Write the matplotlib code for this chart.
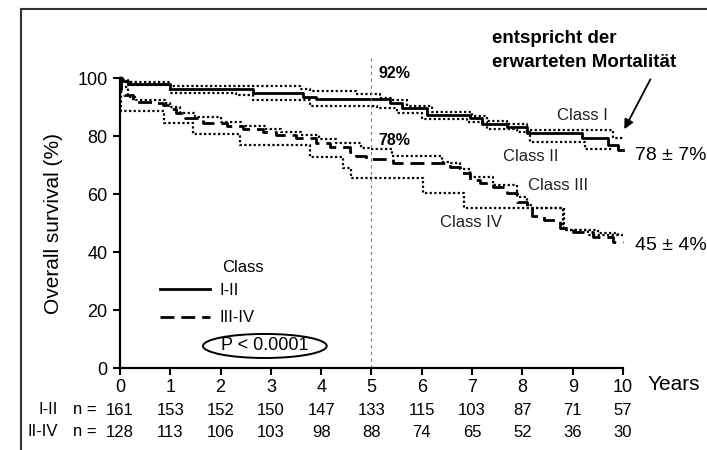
import matplotlib.pyplot as plt
from matplotlib.lines import Line2D

plt.rcParams['font.family'] = ['Liberation Sans', 'DejaVu Sans']

# survival curves (step, value holds from each time until the next)
t_12 = [0, 0.05, 0.15, 1.0, 2.65, 3.64, 3.9, 5.36, 5.6, 6.1, 6.96, 7.2, 7.7, 8.1, 9.18, 9.7, 9.9, 10.0]
s_12 = [100, 99, 97.9, 96.1, 94.9, 93.6, 92.6, 91.3, 89.5, 87.2, 86.1, 84.1, 83.2, 81.1, 79.2, 76.9, 75.2, 75.2]

t_34 = [0, 0.03, 0.08, 0.26, 0.66, 0.86, 1.02, 1.12, 1.3, 1.66, 2.12, 2.45, 2.85, 3.11, 3.5, 3.9,
        4.18, 4.57, 4.7, 4.9, 5.43, 6.56, 6.76, 6.96, 7.16, 7.42, 7.69, 7.89, 8.09, 8.2, 8.42, 8.75,
        9.0, 9.41, 9.8, 10.0]
s_34 = [100, 96, 94, 91.8, 91.3, 90.6, 89.2, 87.8, 86.1, 84.6, 83.4, 82.3, 81.5, 80.3, 79.2, 77.5,
        76.3, 74.6, 73.1, 72.0, 70.6, 69.4, 67.1, 64.8, 63.7, 62.5, 60.2, 57.3, 55.1, 52.4, 51.0, 48.2,
        47.0, 45.3, 43.6, 43.6]

# single-class curves (dotted)
t_c1 = [0, 0.05, 0.15, 1.0, 3.58, 3.78, 4.7, 5.17, 5.4, 5.7, 6.2, 7.0, 7.3, 7.7, 8.1, 9.8, 10.0]
s_c1 = [100, 99.2, 98.6, 97.3, 96.1, 95.6, 94.5, 93.2, 92.3, 90.5, 88.2, 87.0, 85.2, 84.0, 82.1, 79.2, 79.2]

t_c2 = [0, 0.05, 0.15, 1.0, 2.3, 2.65, 3.78, 5.1, 5.5, 6.0, 6.9, 7.3, 7.9, 8.15, 9.25, 9.8]
s_c2 = [100, 98.8, 97.5, 94.9, 94.1, 92.4, 90.3, 89.5, 88.0, 86.0, 85.0, 82.3, 81.5, 78.1, 75.4, 75.4]

t_c3 = [0, 0.05, 0.15, 0.3, 0.9, 1.0, 1.2, 1.5, 2.0, 2.4, 2.9, 3.2, 3.6, 3.95, 4.3, 4.8, 5.0, 5.4,
        6.4, 6.56, 6.76, 6.96, 7.42, 7.89, 8.09, 8.2, 8.8, 9.5, 9.9]
s_c3 = [100, 97, 93.5, 92.4, 91.5, 90.0, 88.0, 86.5, 85.0, 83.5, 82.5, 81.5, 80.2, 79.0, 77.5, 76.0, 75.5, 73.0,
        71.0, 70.6, 68.8, 66.0, 63.2, 59.1, 56.3, 55.1, 47.6, 46.5, 45.0]

t_c4 = [0, 0.02, 0.87, 1.45, 2.38, 3.78, 4.44, 4.6, 6.03, 6.83, 8.83, 9.3, 10.0]
s_c4 = [100, 88.7, 84.6, 80.7, 76.8, 72.6, 68.9, 65.4, 60.2, 55.1, 47.6, 46.0, 46.0]

# numbers at risk
years = list(range(11))
n_12 = [161, 153, 152, 150, 147, 133, 115, 103, 87, 71, 57]
n_34 = [128, 113, 106, 103, 98, 88, 74, 65, 52, 36, 30]

fig = plt.figure(figsize=(7.07, 4.5), dpi=100)
ax = fig.add_axes([0.1697, 0.1822, 0.7115, 0.6444])

for t, s in [(t_c1, s_c1), (t_c2, s_c2), (t_c3, s_c3), (t_c4, s_c4)]:
    ax.step(t, s, where='post', color='black', lw=1.6, linestyle=(0, (1, 1.1)), clip_on=False)

l1, = ax.step(t_12, s_12, where='post', color='black', lw=2.0, clip_on=False)
l2, = ax.step(t_34, s_34, where='post', color='black', lw=2.0, linestyle=(0, (5, 2.5)), clip_on=False)

# 5-year marker
ax.vlines(5, 0, 107, color='gray', lw=0.8, linestyles=(0, (3, 3)), clip_on=False)
ax.text(5.13, 101.7, '92%', fontsize=11.5, fontweight='bold', va='center')
ax.text(5.13, 78.3, '78%', fontsize=11.5, fontweight='bold', va='center')

ax.text(8.69, 87.2, 'Class I', fontsize=12, va='center', color='#222222')
ax.text(7.61, 72.8, 'Class II', fontsize=12, va='center', color='#222222')
ax.text(8.11, 63.1, 'Class III', fontsize=12, va='center', color='#222222')
ax.text(6.36, 50.3, 'Class IV', fontsize=12, va='center', color='#222222')

ax.text(10.24, 73.4, '78 ± 7%', fontsize=14, va='center', clip_on=False)
ax.text(10.24, 42.4, '45 ± 4%', fontsize=14, va='center', clip_on=False)

ax.text(7.40, 113.8, 'entspricht der', fontsize=13.5, fontweight='bold', va='center')
ax.text(7.40, 105.2, 'erwarteten Mortalität', fontsize=13.5, fontweight='bold', va='center')
ax.annotate('', xy=(10.0, 81.5), xytext=(10.57, 100.4),
            arrowprops=dict(arrowstyle='-|>', color='black', lw=1.3, mutation_scale=14),
            annotation_clip=False)

# legend
ax.text(2.03, 34.8, 'Class', fontsize=12, va='center')
ax.legend([l1, l2], ['I-II', 'III-IV'], loc='upper left', bbox_to_anchor=(0.049, 0.345),
          frameon=False, fontsize=12, handlelength=3.0, handletextpad=0.6, labelspacing=0.75)
ax.text(2.88, 7.6, 'P < 0.0001', fontsize=13, ha='center', va='center',
        bbox=dict(boxstyle='ellipse,pad=0.0', fc='none', ec='black', lw=1.4))

# axes
ax.set_xlim(0, 10)
ax.set_ylim(0, 100)
ax.set_xticks(years)
ax.set_yticks([0, 20, 40, 60, 80, 100])
ax.spines['top'].set_visible(False)
ax.spines['right'].set_visible(False)
ax.spines['left'].set_linewidth(1.6)
ax.spines['bottom'].set_linewidth(1.6)
ax.tick_params(direction='out', length=5, width=1.5, labelsize=13)
ax.tick_params(axis='x', pad=3)
ax.tick_params(axis='y', pad=4)
ax.set_ylabel('Overall survival (%)', fontsize=15, labelpad=10)
fig.text(648 / 707, 1 - 385 / 450, 'Years', fontsize=15, va='center')

# numbers-at-risk table
tr = ax.get_xaxis_transform()
for x, a, b in zip(years, n_12, n_34):
    ax.text(x, -0.145, str(a), transform=tr, ha='center', va='center', fontsize=12)
    ax.text(x, -0.221, str(b), transform=tr, ha='center', va='center', fontsize=12)
fig.text(58 / 707, 1 - 410 / 450, 'I-II', ha='right', va='center', fontsize=12)
fig.text(58 / 707, 1 - 432 / 450, 'II-IV', ha='right', va='center', fontsize=12)
fig.text(97 / 707, 1 - 410 / 450, 'n =', ha='right', va='center', fontsize=12)
fig.text(97 / 707, 1 - 432 / 450, 'n =', ha='right', va='center', fontsize=12)

# outer frame (top and left only)
fig.add_artist(Line2D([21 / 707, 1.0], [1 - 9 / 450, 1 - 9 / 450], color='#333333', lw=1.5))
fig.add_artist(Line2D([21 / 707, 21 / 707], [0, 1 - 9 / 450], color='#333333', lw=1.5))

fig.savefig('out.png', dpi=100)
